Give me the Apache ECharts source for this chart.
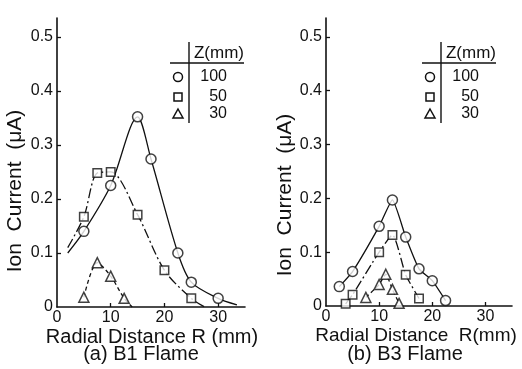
<!DOCTYPE html>
<html>
<head>
<meta charset="utf-8">
<script src="https://cdn.jsdelivr.net/npm/echarts@6/dist/echarts.min.js"></script>
<style>
  html, body { margin: 0; padding: 0; background: #fff; }
  #chart { width: 522px; height: 369px; }
</style>
</head>
<body>
<div id="chart"></div>
<script>
// Ion current (uA) against radial distance R (mm), one series per axial height Z
const b1Z100 = [[5, 0.140], [10, 0.225], [15, 0.352], [17.5, 0.274], [22.5, 0.100], [25, 0.046], [30, 0.016]];
const b1Z50  = [[5, 0.167], [7.5, 0.248], [10, 0.250], [15, 0.171], [20, 0.068], [25, 0.016]];
const b1Z30  = [[5, 0.018], [7.5, 0.082], [10, 0.057], [12.5, 0.016]];

const b3Z100 = [[2.5, 0.036], [5, 0.064], [10, 0.148], [12.5, 0.197], [15, 0.128], [17.5, 0.069], [20, 0.047], [22.5, 0.010]];
const b3Z50  = [[3.7, 0.004], [5, 0.021], [10, 0.100], [12.5, 0.132], [15, 0.058], [17.5, 0.014]];
const b3Z30  = [[7.5, 0.016], [10, 0.040], [11.25, 0.059], [12.5, 0.031], [13.75, 0.005]];

// Where the hand-fitted curves start and stop beyond the measured points
const b1Z100Ends = [[2, 0.100], [33.5, 0.004]];
const b1Z50Ends  = [[2, 0.110], [27.5, 0.000]];
const b1Z30Ends  = [null, [14, 0.000]];

const xTickValues = [0, 10, 20, 30];
const yTickValues = [0, 0.1, 0.2, 0.3, 0.4, 0.5];
const zLabels = ['100', '50', '30'];
const panelCaptions = ['(a) B1 Flame', '(b) B3 Flame'];
const xTitles = ['Radial Distance R (mm)', 'Radial Distance  R(mm)'];
const yTitle = 'Ion  Current  (\u03bcA)';
const legendHeader = 'Z(mm)';

const INK = '#111';
const FONT = '"Liberation Sans", Arial, sans-serif';

function withEnds(points, ends) {
  const d = points.slice();
  if (ends && ends[0]) d.unshift(ends[0]);
  if (ends && ends[1]) d.push(ends[1]);
  return d;
}

const grids = [
  { left: 57, top: 18, width: 188, height: 289 },
  { left: 326, top: 18, width: 186, height: 288 }
];

function xAxisFor(i) {
  return {
    type: 'value', gridIndex: i, min: 0, max: 35, interval: 10,
    axisLine: { show: true, onZero: false, lineStyle: { color: INK, width: 1.6 } },
    axisTick: { show: true, inside: true, length: 4, customValues: [10, 20, 30], lineStyle: { color: INK, width: 1.3 } },
    axisLabel: { customValues: xTickValues, color: INK, fontSize: 16, fontFamily: FONT, margin: 3 },
    splitLine: { show: false }
  };
}
function yAxisFor(i) {
  return {
    type: 'value', gridIndex: i, min: 0, max: 0.535, interval: 0.1,
    axisLine: { show: true, lineStyle: { color: INK, width: 1.6 } },
    axisTick: { show: true, inside: true, length: 4, customValues: [0.1, 0.2, 0.3, 0.4, 0.5], lineStyle: { color: INK, width: 1.3 } },
    axisLabel: {
      customValues: yTickValues, color: INK, fontSize: 16, fontFamily: FONT, margin: 4,
      formatter: v => (v === 0 ? '0' : v.toFixed(1))
    },
    splitLine: { show: false }
  };
}

const lineTypes = ['solid', [10, 3, 2, 3], [4, 3]];
const symbols = ['circle', 'rect', 'triangle'];
const symbolSizes = [10, 8.5, 10];

function curve(i, data, k, smooth) {
  return {
    type: 'line', xAxisIndex: i, yAxisIndex: i, data: data,
    showSymbol: false, smooth: smooth, silent: true, z: 2,
    lineStyle: { color: INK, width: 1.3, type: lineTypes[k] }
  };
}
function marks(i, data, k) {
  return {
    type: 'scatter', xAxisIndex: i, yAxisIndex: i, data: data,
    symbol: symbols[k], symbolSize: symbolSizes[k], z: 3, silent: true,
    itemStyle: { color: '#fff', borderColor: INK, borderWidth: 1.5 }
  };
}

const series = [
  curve(0, withEnds(b1Z100, b1Z100Ends), 0, 0.3),
  curve(0, withEnds(b1Z50, b1Z50Ends), 1, 0.3),
  curve(0, withEnds(b1Z30, b1Z30Ends), 2, 0.3),
  marks(0, b1Z100, 0), marks(0, b1Z50, 1), marks(0, b1Z30, 2),
  curve(1, b3Z100, 0, 0.15),
  curve(1, b3Z50, 1, 0.2),
  curve(1, b3Z30, 2, 0.15),
  marks(1, b3Z100, 0), marks(1, b3Z50, 1), marks(1, b3Z30, 2)
];

// Small Z(mm) key table drawn in each panel
function keyTable(dx) {
  const els = [];
  const lineStyle = { stroke: INK, lineWidth: 1.4 };
  els.push({ type: 'line', shape: { x1: 189 + dx, y1: 42, x2: 189 + dx, y2: 123 }, style: lineStyle });
  els.push({ type: 'line', shape: { x1: 170 + dx, y1: 63, x2: 244 + dx, y2: 63 }, style: lineStyle });
  els.push({ type: 'text', x: 219 + dx, y: 53, style: { text: legendHeader, fill: INK, font: '17px ' + FONT, textAlign: 'center', textVerticalAlign: 'middle' } });
  const rows = [77, 97, 114];
  const sx = 178 + dx;
  const shapeStyle = { fill: '#fff', stroke: INK, lineWidth: 1.5 };
  els.push({ type: 'circle', shape: { cx: sx, cy: rows[0], r: 4.5 }, style: shapeStyle });
  els.push({ type: 'rect', shape: { x: sx - 4, y: rows[1] - 4, width: 8, height: 8 }, style: shapeStyle });
  els.push({ type: 'polygon', shape: { points: [[sx, rows[2] - 5], [sx + 5, rows[2] + 4], [sx - 5, rows[2] + 4]] }, style: shapeStyle });
  zLabels.forEach((t, j) => {
    els.push({ type: 'text', x: 227 + dx, y: rows[j], style: { text: t, fill: INK, font: '16px ' + FONT, textAlign: 'right', textVerticalAlign: 'middle' } });
  });
  return els;
}

const graphic = [].concat(
  keyTable(0),
  keyTable(252),
  [
    { type: 'text', x: 152, y: 337, style: { text: xTitles[0], fill: INK, font: '20px ' + FONT, textAlign: 'center', textVerticalAlign: 'middle' } },
    { type: 'text', x: 416, y: 336, style: { text: xTitles[1], fill: INK, font: '19px ' + FONT, textAlign: 'center', textVerticalAlign: 'middle' } },
    { type: 'text', x: 141, y: 354, style: { text: panelCaptions[0], fill: INK, font: '20px ' + FONT, textAlign: 'center', textVerticalAlign: 'middle' } },
    { type: 'text', x: 405, y: 354, style: { text: panelCaptions[1], fill: INK, font: '20px ' + FONT, textAlign: 'center', textVerticalAlign: 'middle' } },
    { type: 'text', x: 15, y: 191, rotation: Math.PI / 2, style: { text: yTitle, fill: INK, font: '21px ' + FONT, textAlign: 'center', textVerticalAlign: 'middle' } },
    { type: 'text', x: 285, y: 195, rotation: Math.PI / 2, style: { text: yTitle, fill: INK, font: '21px ' + FONT, textAlign: 'center', textVerticalAlign: 'middle' } }
  ]
);

const chart = echarts.init(document.getElementById('chart'), null, { renderer: 'canvas' });
chart.setOption({
  backgroundColor: '#fff',
  animation: false,
  grid: grids,
  xAxis: [xAxisFor(0), xAxisFor(1)],
  yAxis: [yAxisFor(0), yAxisFor(1)],
  series: series,
  graphic: graphic
});
</script>
</body>
</html>
